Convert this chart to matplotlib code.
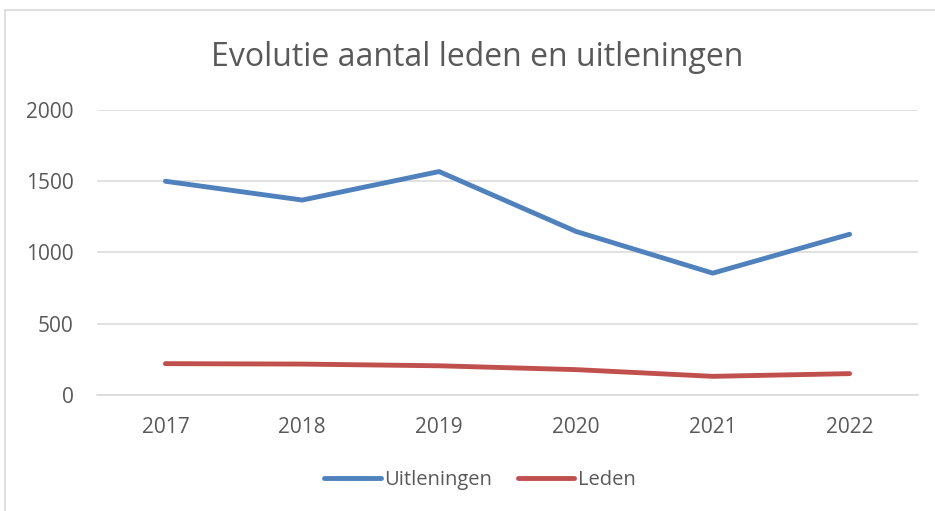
import matplotlib
matplotlib.use("Agg")
import matplotlib.pyplot as plt
from matplotlib.patches import Rectangle

years = ["2017", "2018", "2019", "2020", "2021", "2022"]
uitleningen = [1500, 1368, 1568, 1148, 855, 1128]
leden = [220, 217, 205, 178, 131, 150]
y_ticks = [0, 500, 1000, 1500, 2000]

W, H = 935, 511
fig = plt.figure(figsize=(W / 100, H / 100), dpi=100)
plt.rcParams['font.family'] = ['Open Sans', 'DejaVu Sans']

# chart border
fig.patches.append(Rectangle((5 / W, -0.01), 1.2, (H - 10) / H + 0.01,
                             transform=fig.transFigure, fill=False,
                             edgecolor='#D9D9D9', linewidth=1.2))

left, right, top, bottom = 97, 918, 110, 395
ax = fig.add_axes([left / W, 1 - bottom / H, (right - left) / W, (bottom - top) / H])

x = list(range(len(years)))
ax.plot(x, uitleningen, color='#4F81BD', linewidth=3.5, solid_capstyle='round',
        solid_joinstyle='round', label='Uitleningen')
ax.plot(x, leden, color='#C0504D', linewidth=3.5, solid_capstyle='round',
        solid_joinstyle='round', label='Leden')

ax.set_xlim(-0.5, len(years) - 0.5)
ax.set_ylim(0, 2000)
ax.set_yticks(y_ticks)
ax.set_yticklabels([str(v) for v in y_ticks])
ax.set_xticks(x)
ax.set_xticklabels(years)
ax.grid(axis='y', color='#D9D9D9', linewidth=1.1)
ax.set_axisbelow(True)
for s in ['top', 'right', 'left']:
    ax.spines[s].set_visible(False)
ax.spines['bottom'].set_color('#D9D9D9')
ax.spines['bottom'].set_linewidth(1.1)
ax.tick_params(axis='both', length=0, labelsize=15, labelcolor='#595959')
ax.tick_params(axis='y', pad=17)
ax.tick_params(axis='x', pad=15.5)

fig.text(477.5 / W, 1 - 66 / H, "Evolutie aantal leden en uitleningen",
         ha='center', va='baseline', fontsize=23, color='#595959')

leg = fig.legend(loc='center', bbox_to_anchor=(480 / W, 1 - 480 / H), ncol=2,
                 frameon=False, fontsize=14.5, handlelength=2.8, handletextpad=0.2,
                 columnspacing=1.25, labelcolor='#595959')

fig.savefig("out.png", dpi=100)
